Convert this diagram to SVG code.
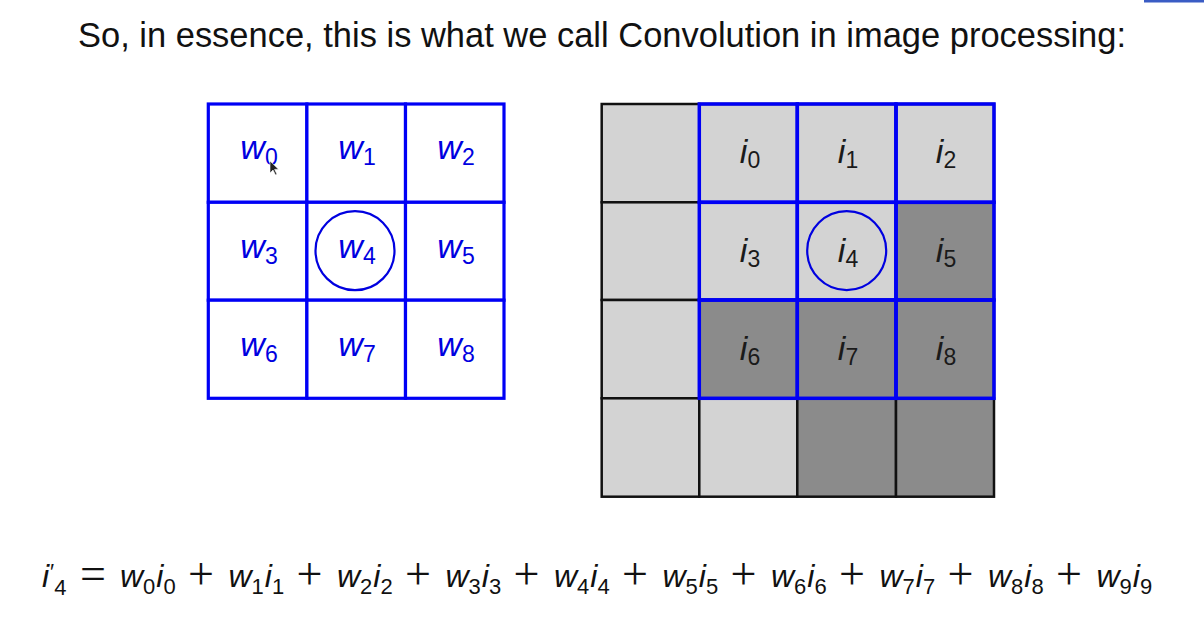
<svg xmlns="http://www.w3.org/2000/svg" width="1204" height="636" viewBox="0 0 1204 636">
<style>
text{font-family:"Liberation Sans",Arial,sans-serif}
.title{font-size:35px;fill:#111}
.kc{fill:#fff;stroke:#0000f5;stroke-width:3.2}
.kl{font-size:34px;font-style:italic;fill:#0000e0;text-anchor:middle}
.il{font-size:34px;font-style:italic;fill:#1a1a1a;text-anchor:middle}
.sub{font-size:23px;font-style:normal}
.lg{fill:#d3d3d3;stroke:#111;stroke-width:2.5}
.dg{fill:#8b8b8b;stroke:#111;stroke-width:2.5}
.bo{fill:none;stroke:#0000f5;stroke-width:3.5}
.circ{fill:none;stroke:#0000e0;stroke-width:2.2}
.f{font-size:32px;font-style:italic;fill:#111}
.fs{font-size:22px;font-style:normal}
.op{font-family:"Liberation Serif","Times New Roman",serif;font-size:46px;fill:#111;text-anchor:middle}
</style>
<rect width="1204" height="636" fill="#fff"/>
<rect x="1144" y="0" width="60" height="2.5" fill="#3a5cc4"/>
<text class="title" x="78" y="47" textLength="1048" lengthAdjust="spacingAndGlyphs">So, in essence, this is what we call Convolution in image processing:</text>

<g id="kernel">
  <g id="k0"><rect class="kc" x="208.3" y="104" width="98.6" height="98.3"/><text class="kl" x="259" y="159">w<tspan class="sub" dy="6">0</tspan></text></g>
  <g id="k1"><rect class="kc" x="306.9" y="104" width="98.6" height="98.3"/><text class="kl" x="357" y="159">w<tspan class="sub" dy="6">1</tspan></text></g>
  <g id="k2"><rect class="kc" x="405.5" y="104" width="98.5" height="98.3"/><text class="kl" x="456" y="159">w<tspan class="sub" dy="6">2</tspan></text></g>
  <g id="k3"><rect class="kc" x="208.3" y="202.3" width="98.6" height="97.9"/><text class="kl" x="259" y="258">w<tspan class="sub" dy="6">3</tspan></text></g>
  <g id="k4"><rect class="kc" x="306.9" y="202.3" width="98.6" height="97.9"/><circle class="circ" cx="355" cy="250.7" r="39.5"/><text class="kl" x="357" y="258">w<tspan class="sub" dy="6">4</tspan></text></g>
  <g id="k5"><rect class="kc" x="405.5" y="202.3" width="98.5" height="97.9"/><text class="kl" x="456" y="258">w<tspan class="sub" dy="6">5</tspan></text></g>
  <g id="k6"><rect class="kc" x="208.3" y="300.2" width="98.6" height="98.1"/><text class="kl" x="259" y="356">w<tspan class="sub" dy="6">6</tspan></text></g>
  <g id="k7"><rect class="kc" x="306.9" y="300.2" width="98.6" height="98.1"/><text class="kl" x="357" y="356">w<tspan class="sub" dy="6">7</tspan></text></g>
  <g id="k8"><rect class="kc" x="405.5" y="300.2" width="98.5" height="98.1"/><text class="kl" x="456" y="356">w<tspan class="sub" dy="6">8</tspan></text></g>
  <polygon id="cursor" points="270,161 270,173 273,170 275.5,175 277,174.3 274.6,169.4 278.5,169.2" fill="#222" stroke="#fff" stroke-width="0.6"/>
</g>

<g id="image">
  <g id="px-cells">
    <rect class="lg" x="601.7" y="104" width="97.6" height="98.3"/>
    <rect class="lg" x="699.3" y="104" width="98" height="98.3"/>
    <rect class="lg" x="797.3" y="104" width="98.7" height="98.3"/>
    <rect class="lg" x="896" y="104" width="98" height="98.3"/>
    <rect class="lg" x="601.7" y="202.3" width="97.6" height="97.7"/>
    <rect class="lg" x="699.3" y="202.3" width="98" height="97.7"/>
    <rect class="lg" x="797.3" y="202.3" width="98.7" height="97.7"/>
    <rect class="dg" x="896" y="202.3" width="98" height="97.7"/>
    <rect class="lg" x="601.7" y="300" width="97.6" height="98.3"/>
    <rect class="dg" x="699.3" y="300" width="98" height="98.3"/>
    <rect class="dg" x="797.3" y="300" width="98.7" height="98.3"/>
    <rect class="dg" x="896" y="300" width="98" height="98.3"/>
    <rect class="lg" x="601.7" y="398.3" width="97.6" height="98.4"/>
    <rect class="lg" x="699.3" y="398.3" width="98" height="98.4"/>
    <rect class="dg" x="797.3" y="398.3" width="98.7" height="98.4"/>
    <rect class="dg" x="896" y="398.3" width="98" height="98.4"/>
  </g>
  <g id="window">
    <rect class="bo" x="699.3" y="104" width="98" height="98.3"/>
    <rect class="bo" x="797.3" y="104" width="98.7" height="98.3"/>
    <rect class="bo" x="896" y="104" width="98" height="98.3"/>
    <rect class="bo" x="699.3" y="202.3" width="98" height="97.7"/>
    <rect class="bo" x="797.3" y="202.3" width="98.7" height="97.7"/>
    <rect class="bo" x="896" y="202.3" width="98" height="97.7"/>
    <rect class="bo" x="699.3" y="300" width="98" height="98.3"/>
    <rect class="bo" x="797.3" y="300" width="98.7" height="98.3"/>
    <rect class="bo" x="896" y="300" width="98" height="98.3"/>
  </g>
  <circle class="circ" cx="846.7" cy="250.6" r="39.5"/>
  <g id="i0"><text class="il" x="750" y="163">i<tspan class="sub" dy="5">0</tspan></text></g>
  <g id="i1"><text class="il" x="848" y="163">i<tspan class="sub" dy="5">1</tspan></text></g>
  <g id="i2"><text class="il" x="946" y="163">i<tspan class="sub" dy="5">2</tspan></text></g>
  <g id="i3"><text class="il" x="750" y="262">i<tspan class="sub" dy="5">3</tspan></text></g>
  <g id="i4"><text class="il" x="848" y="262">i<tspan class="sub" dy="5">4</tspan></text></g>
  <g id="i5"><text class="il" x="946" y="262">i<tspan class="sub" dy="5">5</tspan></text></g>
  <g id="i6"><text class="il" x="750" y="360">i<tspan class="sub" dy="5">6</tspan></text></g>
  <g id="i7"><text class="il" x="848" y="360">i<tspan class="sub" dy="5">7</tspan></text></g>
  <g id="i8"><text class="il" x="946" y="360">i<tspan class="sub" dy="5">8</tspan></text></g>
</g>

<g id="formula">
  <text class="f" x="42" y="587">i<tspan class="fs" dx="1" dy="-8">′</tspan><tspan class="fs" dx="0" dy="16">4</tspan></text>
  <text class="op" x="93" y="589">=</text>
  <text class="f" x="120" y="587">w<tspan class="fs" dy="7">0</tspan><tspan dy="-7" dx="1">i</tspan><tspan class="fs" dy="7">0</tspan></text>
  <text class="op" x="201" y="589">+</text>
  <text class="f" x="228.5" y="587">w<tspan class="fs" dy="7">1</tspan><tspan dy="-7" dx="1">i</tspan><tspan class="fs" dy="7">1</tspan></text>
  <text class="op" x="309.5" y="589">+</text>
  <text class="f" x="337" y="587">w<tspan class="fs" dy="7">2</tspan><tspan dy="-7" dx="1">i</tspan><tspan class="fs" dy="7">2</tspan></text>
  <text class="op" x="418" y="589">+</text>
  <text class="f" x="445.5" y="587">w<tspan class="fs" dy="7">3</tspan><tspan dy="-7" dx="1">i</tspan><tspan class="fs" dy="7">3</tspan></text>
  <text class="op" x="526.5" y="589">+</text>
  <text class="f" x="554" y="587">w<tspan class="fs" dy="7">4</tspan><tspan dy="-7" dx="1">i</tspan><tspan class="fs" dy="7">4</tspan></text>
  <text class="op" x="635" y="589">+</text>
  <text class="f" x="662.5" y="587">w<tspan class="fs" dy="7">5</tspan><tspan dy="-7" dx="1">i</tspan><tspan class="fs" dy="7">5</tspan></text>
  <text class="op" x="743.5" y="589">+</text>
  <text class="f" x="771" y="587">w<tspan class="fs" dy="7">6</tspan><tspan dy="-7" dx="1">i</tspan><tspan class="fs" dy="7">6</tspan></text>
  <text class="op" x="852" y="589">+</text>
  <text class="f" x="879.5" y="587">w<tspan class="fs" dy="7">7</tspan><tspan dy="-7" dx="1">i</tspan><tspan class="fs" dy="7">7</tspan></text>
  <text class="op" x="960.5" y="589">+</text>
  <text class="f" x="988" y="587">w<tspan class="fs" dy="7">8</tspan><tspan dy="-7" dx="1">i</tspan><tspan class="fs" dy="7">8</tspan></text>
  <text class="op" x="1069" y="589">+</text>
  <text class="f" x="1096.5" y="587">w<tspan class="fs" dy="7">9</tspan><tspan dy="-7" dx="1">i</tspan><tspan class="fs" dy="7">9</tspan></text>
</g>
</svg>
